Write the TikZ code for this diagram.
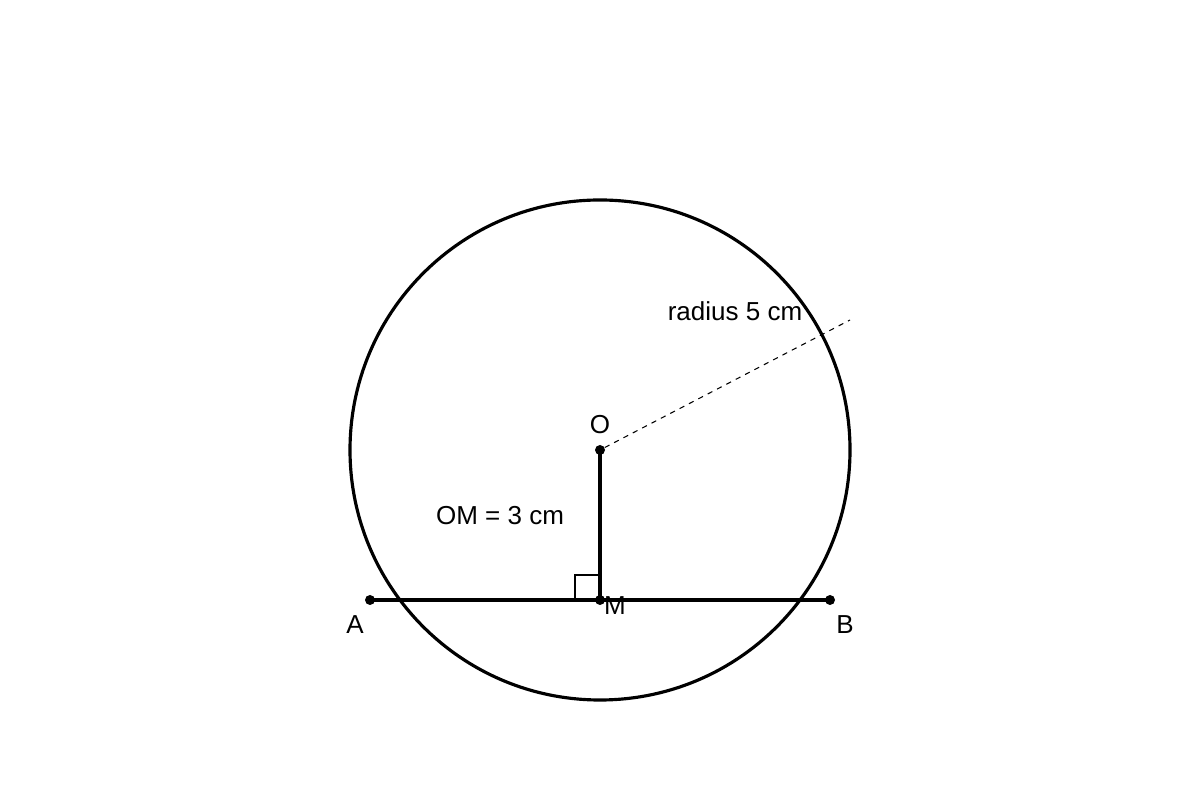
\documentclass[tikz,border=0pt]{standalone}
\usepackage{fontspec}
\setmainfont{Liberation Sans}
\usepackage{tikz}
\tikzstyle{dot}=[circle,fill=black,inner sep=0pt,minimum size=2mm]
\tikzstyle{lbl}=[inner sep=0pt,font=\fontsize{14.8}{17}\selectfont]

\begin{document}
\begin{tikzpicture}
\useasboundingbox (0,0) rectangle (24,16);
\draw[line width=1.8pt] (12,7) circle (5);
\node[dot] (O) at (12,7) {};
\node[dot] (M) at (12,4) {};
\node[dot] (A) at (7.4,4) {};
\node[dot] (B) at (16.6,4) {};
\coordinate (R) at (17,9.6);
\draw[line width=1.8pt] (A.center)--(B.center);
\draw[line width=1.8pt] (O.center)--(M.center);
\draw[line width=0.8pt] (11.5,4)--(11.5,4.5)--(12,4.5);
\draw[dashed,line width=0.6pt] (O)--(R);
\node[lbl] (lO) at (12,7.5) {O};
\node[lbl] (lM) at (12.3,3.88) {M};
\node[lbl] (lA) at (7.1,3.5) {A};
\node[lbl] (lB) at (16.9,3.5) {B};
\node[lbl] (lOM) at (10,5.68) {OM = 3 cm};
\node[lbl] (lR) at (14.7,9.78) {radius 5 cm};
\end{tikzpicture}
\end{document}
